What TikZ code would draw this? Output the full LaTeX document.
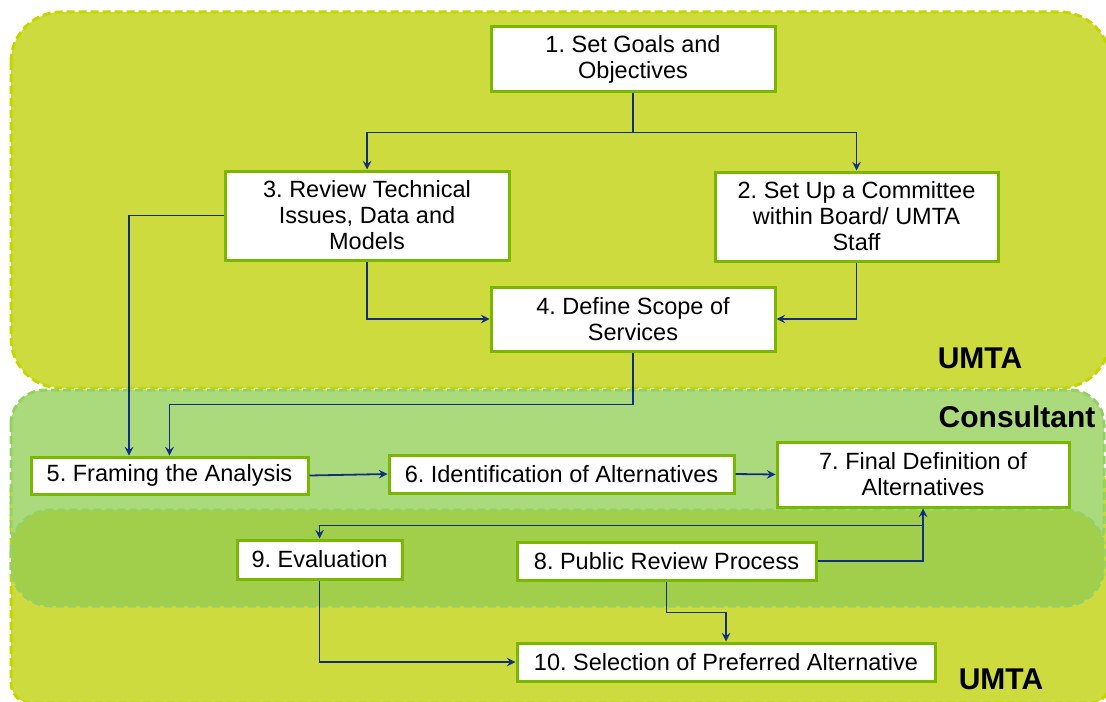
\documentclass[tikz,border=0pt]{standalone}
\usepackage{fontspec}
\setmainfont{Liberation Sans}
\usepackage{xcolor}
\usepackage{tikz}
\usetikzlibrary{calc}
\usetikzlibrary{positioning}
\tikzset{>=stealth}
\definecolor{umtafill}{HTML}{CDDB3F}
\definecolor{umtaedge}{HTML}{C3D600}
\definecolor{consfill}{HTML}{AADA7B}
\definecolor{consedge}{HTML}{93D162}
\definecolor{bandfill}{HTML}{A1CF4B}
\definecolor{boxedge}{HTML}{78B800}
\definecolor{flowblue}{HTML}{0F2F80}
\frenchspacing

\begin{document}
\begin{tikzpicture}[x=0.5pt,y=-0.5pt,
    zone/.style={line width=1.5pt, dash pattern=on 4pt off 2pt, rounded corners=25pt},
    stagebox/.style={draw=boxedge, line width=1.5pt, fill=white, align=center, inner sep=0pt, font=\fontsize{11.75}{13}\selectfont},
    flow/.style={draw=flowblue, line width=0.9pt, ->},
    zonelabel/.style={font=\fontsize{15}{18}\selectfont\bfseries}]
    \useasboundingbox (0,0) rectangle (1106,701);
    % areas
    \draw[zone, draw=umtaedge, fill=umtafill] (11,12) rectangle (1110,388);
    \draw[zone, draw=umtaedge, fill=umtafill, rounded corners=10pt] (11,470) rectangle (1110,703);
    \draw[zone, draw=consedge, fill=consfill, rounded corners=17pt] (11,390) rectangle (1104,560);
    \draw[zone, draw=consedge, fill=bandfill, rounded corners=20pt] (11,510) rectangle (1104,606);
    \node[zonelabel] (umtatop) at (980,358) {UMTA};
    \node[zonelabel] (cons) at (1017,417) {Consultant};
    \node[zonelabel] (umtabot) at (1001,679) {UMTA};
    % stages
    \node[stagebox, minimum width=142pt, minimum height=32.5pt] (b1) at (633,59.5) {1. Set Goals and\\Objectives};
    \node[stagebox, minimum width=142pt, minimum height=44.5pt] (b3) at (367,215.5) {3. Review Technical\\Issues, Data and\\Models};
    \node[stagebox, minimum width=141.5pt, minimum height=44.5pt] (b2) at (856.5,216.5) {2. Set Up a Committee\\within Board/ UMTA\\Staff};
    \node[stagebox, minimum width=142pt, minimum height=32pt] (b4) at (633,319) {4. Define Scope of\\Services};
    \node[stagebox, minimum width=138.5pt, minimum height=18.5pt] (b5) at (169.5,475.5) {5. Framing the Analysis};
    \node[stagebox, minimum width=172.5pt, minimum height=19pt] (b6) at (561.5,474) {6. Identification of Alternatives};
    \node[stagebox, minimum width=146pt, minimum height=32.5pt] (b7) at (923,474.5) {7. Final Definition of\\Alternatives};
    \node[stagebox, minimum width=82.5pt, minimum height=19.5pt] (b9) at (319.5,559.5) {9. Evaluation};
    \node[stagebox, minimum width=149.5pt, minimum height=19pt] (b8) at (666.5,561) {8. Public Review Process};
    \node[stagebox, minimum width=209pt, minimum height=19pt] (b10) at (726,662) {10. Selection of Preferred Alternative};
    % links
    \draw[flow] (b1.south) -- ++(0,39) -| (b3.north);
    \draw[flow] (b1.south) -- ++(0,39) -| (b2.north);
    \draw[flow] (b3.south) |- (b4.west);
    \draw[flow] (b2.south) |- (b4.east);
    \draw[flow] (b3.west) -| ($(b5.north)+(-40.5,0)$);
    \draw[flow] (b4.south) -- ++(0,52) -| (b5.north);
    \draw[flow] (b5.east) -- (b6.west);
    \draw[flow] (b6.east) -- (b7.west);
    \draw[flow] (b8.east) -| (b7.south);
    \draw[flow] ($(b7.south)+(0,17)$) -| (b9.north);
    \draw[flow] (b8.south) -- ++(0,31) -| (b10.north);
    \draw[flow] (b9.south) |- (b10.west);
\end{tikzpicture}
\end{document}
